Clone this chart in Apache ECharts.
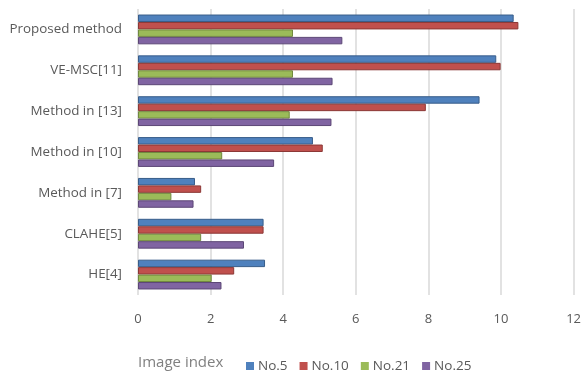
<!DOCTYPE html>
<html>
<head>
<meta charset="utf-8">
<script src="https://cdn.jsdelivr.net/npm/echarts@6/dist/echarts.min.js"></script>
<style>
  html, body { margin: 0; padding: 0; background: #fff; }
  #chart { width: 584px; height: 374px; }
</style>
</head>
<body>
<div id="chart"></div>
<script>
// Methods, listed from top to bottom
const methods = ['Proposed method', 'VE-MSC[11]', 'Method in [13]', 'Method in [10]', 'Method in [7]', 'CLAHE[5]', 'HE[4]'];
const seriesNames = ['No.5', 'No.10', 'No.21', 'No.25'];
const no5  = [10.35, 9.87, 9.41, 4.82, 1.57, 3.46, 3.50];
const no10 = [10.48, 9.99, 7.93, 5.09, 1.74, 3.46, 2.65];
const no21 = [4.27, 4.27, 4.18, 2.32, 0.92, 1.74, 2.03];
const no25 = [5.63, 5.36, 5.33, 3.75, 1.53, 2.92, 2.30];
const xTicks = [0, 2, 4, 6, 8, 10, 12];

const colors = ['#4F81BD', '#C0504D', '#9BBB59', '#8064A2'];
const edges  = ['#385D8A', '#8C3836', '#71893F', '#5C4776'];
const values = [no5, no10, no21, no25];

const font = '"Open Sans", sans-serif';
const chart = echarts.init(document.getElementById('chart'), null, { renderer: 'canvas' });

chart.setOption({
  animation: false,
  title: {
    text: 'Image index',
    left: 133, top: 350,
    textStyle: { fontFamily: font, fontSize: 15, fontWeight: 'normal', color: '#808080' }
  },
  legend: {
    data: seriesNames,
    left: 241, top: 354,
    itemWidth: 8, itemHeight: 8, itemGap: 12,
    icon: 'rect',
    itemStyle: { borderWidth: 0 },
    textStyle: { fontFamily: font, fontSize: 13.5, color: '#595959', padding: [0, 0, 0, -1] }
  },
  grid: { left: 138, right: 5, top: 9, bottom: 79, containLabel: false },
  xAxis: {
    type: 'value', min: xTicks[0], max: xTicks[xTicks.length - 1], interval: 2,
    axisLine: { show: false }, axisTick: { show: false },
    splitLine: { lineStyle: { color: '#D9D9D9', width: 1.5 } },
    axisLabel: { fontFamily: font, fontSize: 13, color: '#595959', margin: 18 }
  },
  yAxis: {
    type: 'category', data: methods, inverse: true,
    axisLine: { show: false }, axisTick: { show: false },
    axisLabel: { fontFamily: font, fontSize: 13.4, color: '#595959', margin: 16, padding: [6, 0, 0, 0] }
  },
  series: seriesNames.map((name, i) => ({
    name, type: 'bar', data: values[i],
    barGap: '0%', barCategoryGap: '27%',
    itemStyle: { color: colors[i], borderColor: edges[i], borderWidth: 1 }
  }))
});
</script>
</body>
</html>
